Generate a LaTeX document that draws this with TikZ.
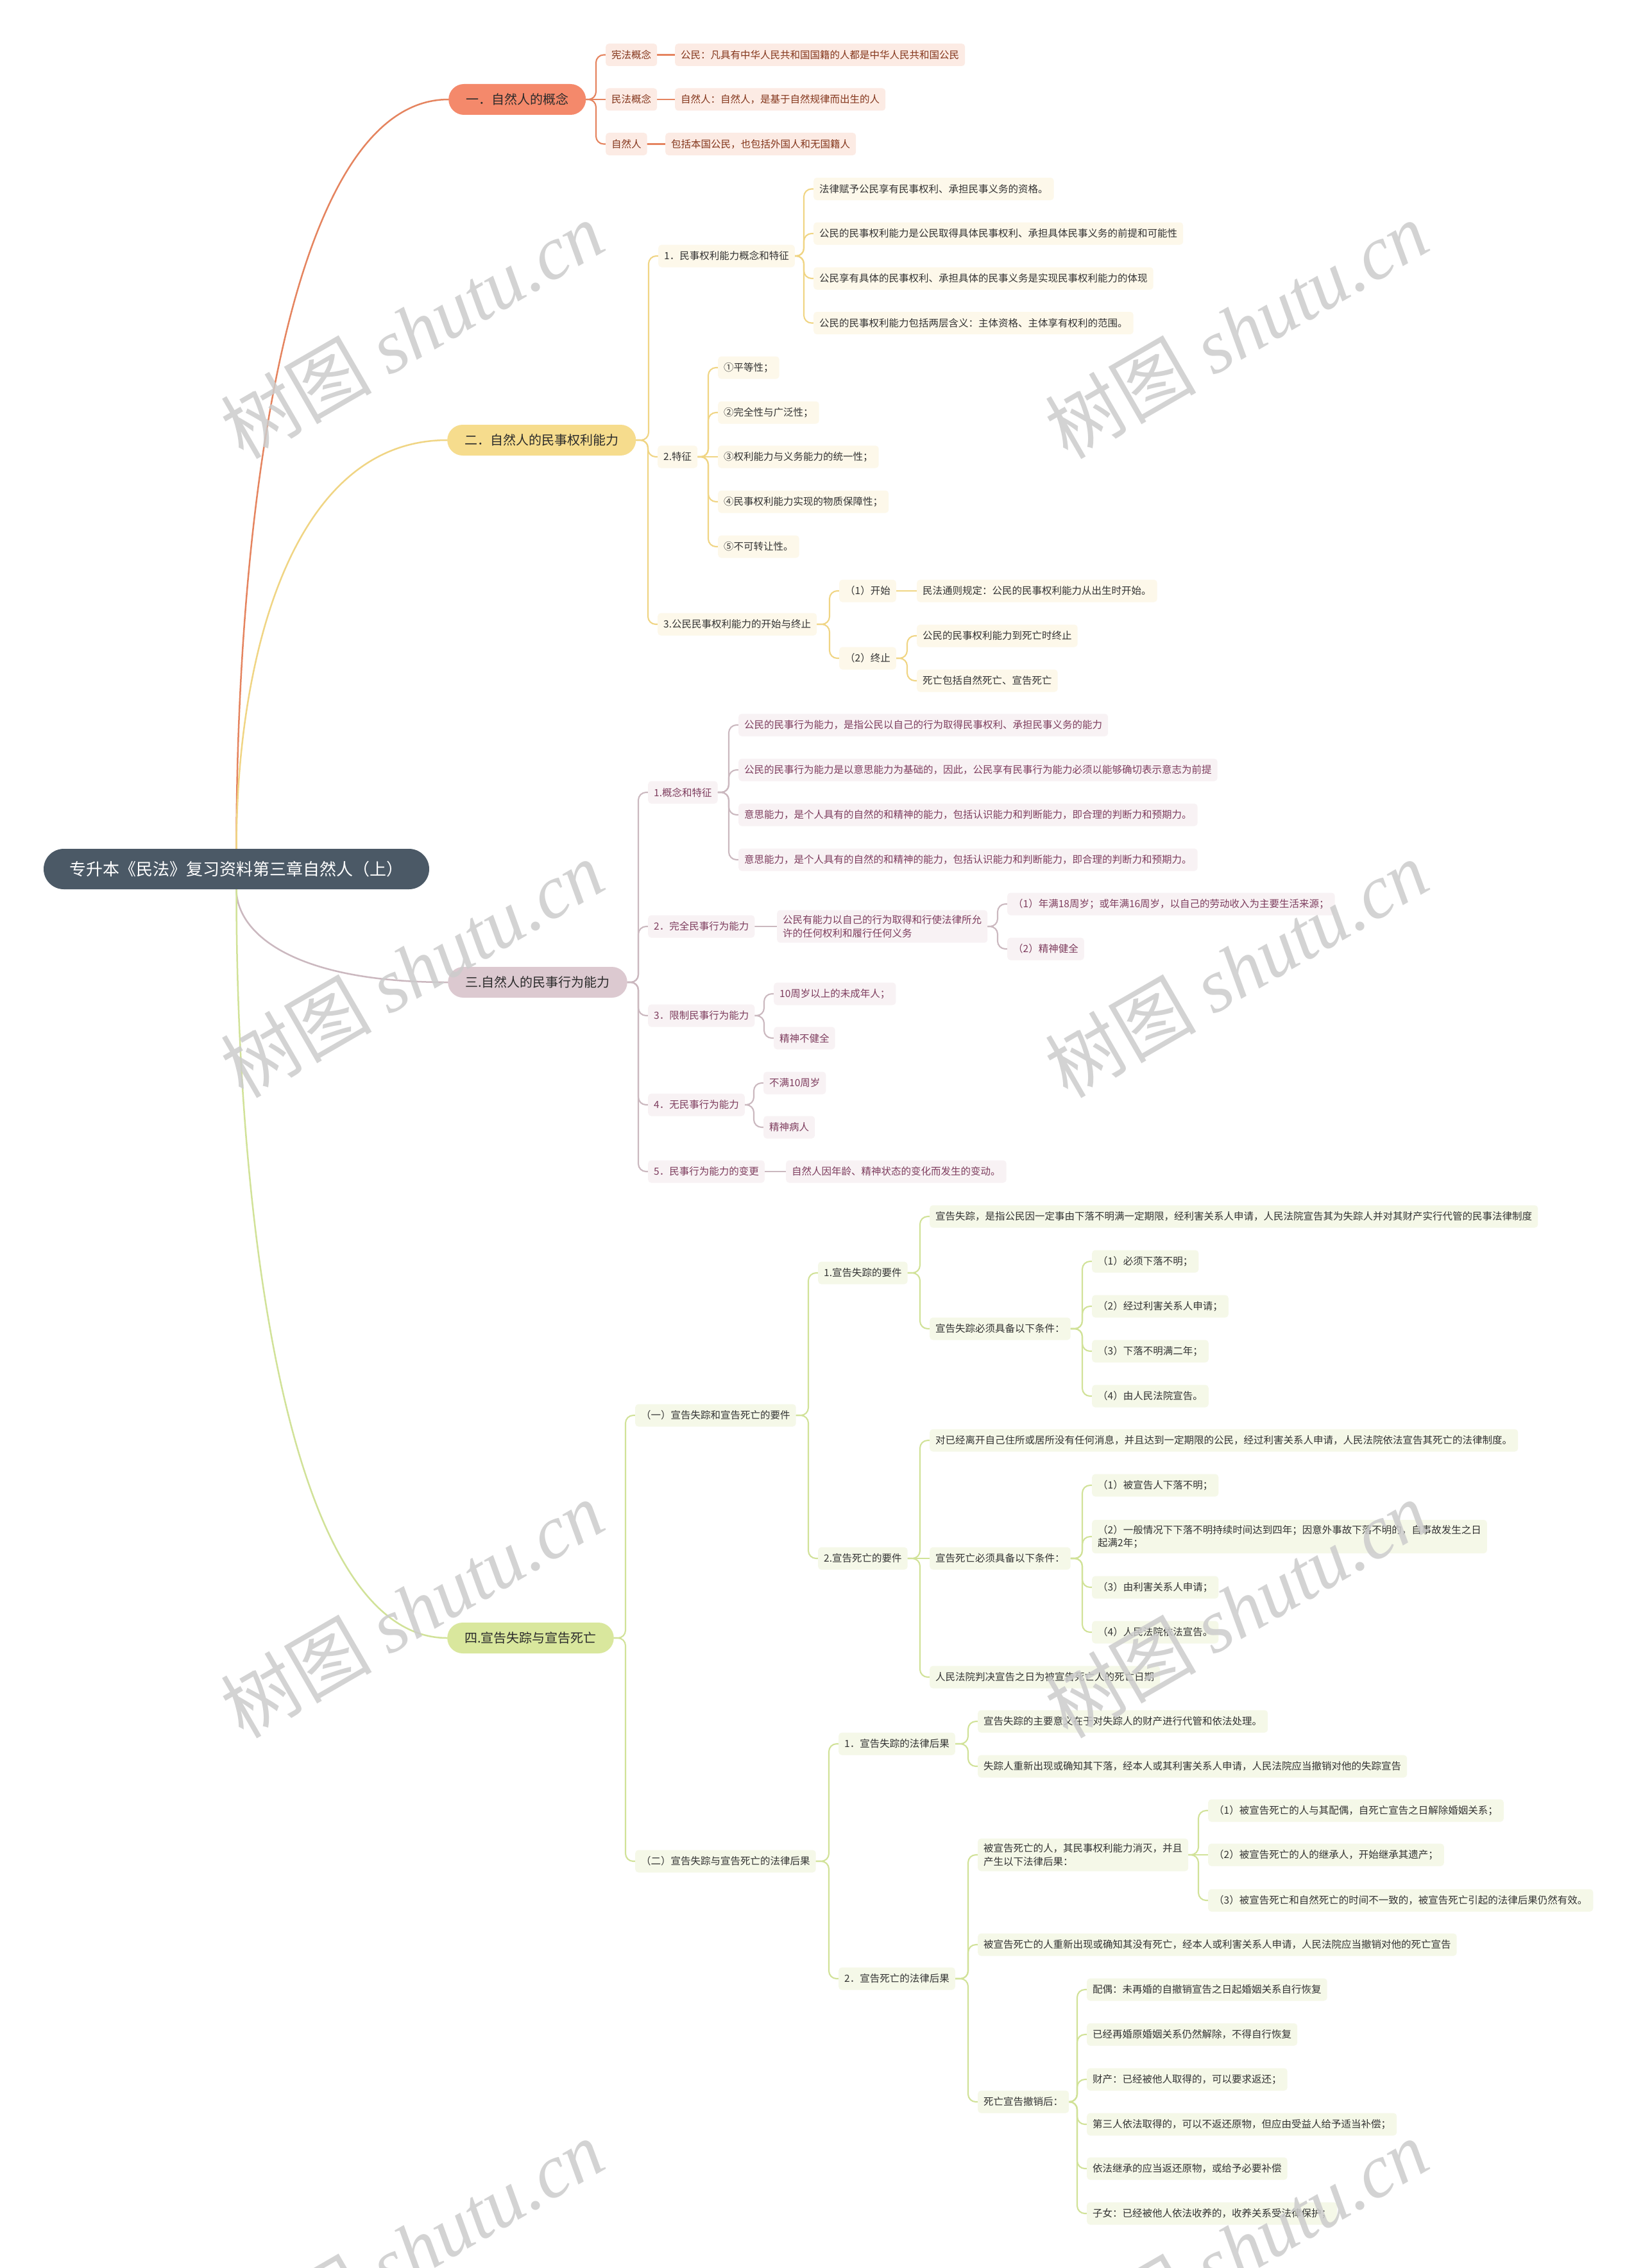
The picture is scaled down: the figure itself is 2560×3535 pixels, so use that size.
\documentclass[tikz,border=0pt]{standalone}
\usepackage{fontspec}
\setmainfont{Noto Sans CJK SC}
\newfontfamily\wmlatin{Liberation Serif}
\usetikzlibrary{calc,backgrounds}
\definecolor{rootfill}{HTML}{4B5966}
\definecolor{txtdark}{HTML}{2B2B2B}
\definecolor{afill}{HTML}{F4896B}
\definecolor{afillL}{HTML}{FCEBE4}
\definecolor{atext}{HTML}{84361C}
\definecolor{aline}{HTML}{E5845F}
\definecolor{bfill}{HTML}{F6DC8D}
\definecolor{bfillL}{HTML}{FDF8EA}
\definecolor{btext}{HTML}{333333}
\definecolor{bline}{HTML}{F0D584}
\definecolor{cfill}{HTML}{DCC9D0}
\definecolor{cfillL}{HTML}{F8F2F4}
\definecolor{ctext}{HTML}{7E3D5E}
\definecolor{cline}{HTML}{CBB8BF}
\definecolor{dfill}{HTML}{D9E79D}
\definecolor{dfillL}{HTML}{F5F8E8}
\definecolor{dtext}{HTML}{333333}
\definecolor{dline}{HTML}{D1E298}
\definecolor{wmgray}{HTML}{CCCCCC}
\newcommand\leaffont{\fontsize{15.5}{20.5}\selectfont}
\newcommand\lonefont{\fontsize{20}{24}\selectfont}
\newcommand\rootfont{\fontsize{26}{30}\selectfont}
\newcommand\wmfont{\fontsize{118}{124}\selectfont}
\tikzset{
  rootnode/.style={fill=rootfill, text=white, rounded corners=31.5, minimum width=601, minimum height=63, inner sep=0, font=\rootfont},
  lone/.style={anchor=west, rounded corners=24, minimum height=48, inner xsep=27, inner ysep=0, font=\lonefont, text=txtdark},
  leaf/.style={anchor=west, rounded corners=5, minimum height=35, inner xsep=9, inner ysep=0, font=\leaffont},
  two/.style={align=left, inner ysep=8},
  ga/.style={leaf, fill=afillL, text=atext},
  gb/.style={leaf, fill=bfillL, text=btext},
  gc/.style={leaf, fill=cfillL, text=ctext},
  gd/.style={leaf, fill=dfillL, text=dtext},
  link/.style={rounded corners=12, line width=2.1, line cap=round},
  rlink/.style={line width=2.5, line cap=round},
  wm/.style={rotate=30, text=wmgray, opacity=0.85, font=\wmfont, inner sep=0}
}
\begin{document}
\begin{tikzpicture}[x=1pt,y=-1pt]
\useasboundingbox (0,0) rectangle (2560,3535);

% ---------- nodes ----------
\node[rootnode] (root) at (368.5,1354.5) {专升本《民法》复习资料第三章自然人（上）};

\node[lone, fill=afill] (n1) at (699,155) {一．自然人的概念};
\node[lone, fill=bfill] (n2) at (697,686) {二．自然人的民事权利能力};
\node[lone, fill=cfill] (n3) at (698,1531) {三.自然人的民事行为能力};
\node[lone, fill=dfill] (n4) at (697,2553) {四.宣告失踪与宣告死亡};

% branch 1
\node[ga] (a1) at (944,85.5) {宪法概念};
\node[ga] (a1x) at (1052,85.5) {公民：凡具有中华人民共和国国籍的人都是中华人民共和国公民};
\node[ga] (a2) at (944,155) {民法概念};
\node[ga] (a2x) at (1052,155) {自然人：自然人，是基于自然规律而出生的人};
\node[ga] (a3) at (944,224.5) {自然人};
\node[ga] (a3x) at (1037,224.5) {包括本国公民，也包括外国人和无国籍人};

% branch 2
\node[gb] (b1) at (1026,399) {1．民事权利能力概念和特征};
\node[gb] (b11) at (1268,294.5) {法律赋予公民享有民事权利、承担民事义务的资格。};
\node[gb] (b12) at (1268,364) {公民的民事权利能力是公民取得具体民事权利、承担具体民事义务的前提和可能性};
\node[gb] (b13) at (1268,434) {公民享有具体的民事权利、承担具体的民事义务是实现民事权利能力的体现};
\node[gb] (b14) at (1268,503.5) {公民的民事权利能力包括两层含义：主体资格、主体享有权利的范围。};
\node[gb] (b2) at (1025,712) {2.特征};
\node[gb] (b21) at (1119,573) {①平等性；};
\node[gb] (b22) at (1119,643) {②完全性与广泛性；};
\node[gb] (b23) at (1119,712) {③权利能力与义务能力的统一性；};
\node[gb] (b24) at (1119,782) {④民事权利能力实现的物质保障性；};
\node[gb] (b25) at (1119,852) {⑤不可转让性。};
\node[gb] (b3) at (1025,973) {3.公民民事权利能力的开始与终止};
\node[gb] (b31) at (1308,921) {（1）开始};
\node[gb] (b311) at (1429,921) {民法通则规定：公民的民事权利能力从出生时开始。};
\node[gb] (b32) at (1308,1026) {（2）终止};
\node[gb] (b321) at (1429,991) {公民的民事权利能力到死亡时终止};
\node[gb] (b322) at (1429,1061) {死亡包括自然死亡、宣告死亡};

% branch 3
\node[gc] (c1) at (1010,1235) {1.概念和特征};
\node[gc] (c11) at (1151,1130) {公民的民事行为能力，是指公民以自己的行为取得民事权利、承担民事义务的能力};
\node[gc] (c12) at (1151,1200) {公民的民事行为能力是以意思能力为基础的，因此，公民享有民事行为能力必须以能够确切表示意志为前提};
\node[gc] (c13) at (1151,1270) {意思能力，是个人具有的自然的和精神的能力，包括认识能力和判断能力，即合理的判断力和预期力。};
\node[gc] (c14) at (1151,1340) {意思能力，是个人具有的自然的和精神的能力，包括认识能力和判断能力，即合理的判断力和预期力。};
\node[gc] (c2) at (1010,1444) {2．完全民事行为能力};
\node[gc, two] (c21) at (1211,1444) {公民有能力以自己的行为取得和行使法律所允\\许的任何权利和履行任何义务};
\node[gc] (c211) at (1570,1409) {（1）年满18周岁；或年满16周岁，以自己的劳动收入为主要生活来源；};
\node[gc] (c212) at (1570,1479) {（2）精神健全};
\node[gc] (c3) at (1010,1583) {3．限制民事行为能力};
\node[gc] (c31) at (1206,1549) {10周岁以上的未成年人；};
\node[gc] (c32) at (1206,1618) {精神不健全};
\node[gc] (c4) at (1010,1722) {4．无民事行为能力};
\node[gc] (c41) at (1190,1688) {不满10周岁};
\node[gc] (c42) at (1190,1757) {精神病人};
\node[gc] (c5) at (1010,1826) {5．民事行为能力的变更};
\node[gc] (c51) at (1225,1826) {自然人因年龄、精神状态的变化而发生的变动。};

% branch 4
\node[gd] (d1) at (990,2206) {（一）宣告失踪和宣告死亡的要件};
\node[gd] (d11) at (1275,1984) {1.宣告失踪的要件};
\node[gd] (d111) at (1449,1896) {宣告失踪，是指公民因一定事由下落不明满一定期限，经利害关系人申请，人民法院宣告其为失踪人并对其财产实行代管的民事法律制度};
\node[gd] (d112) at (1449,2071) {宣告失踪必须具备以下条件：};
\node[gd] (d1121) at (1702,1966) {（1）必须下落不明；};
\node[gd] (d1122) at (1702,2036) {（2）经过利害关系人申请；};
\node[gd] (d1123) at (1702,2106) {（3）下落不明满二年；};
\node[gd] (d1124) at (1702,2176) {（4）由人民法院宣告。};
\node[gd] (d12) at (1275,2429) {2.宣告死亡的要件};
\node[gd] (d121) at (1449,2245) {对已经离开自己住所或居所没有任何消息，并且达到一定期限的公民，经过利害关系人申请，人民法院依法宣告其死亡的法律制度。};
\node[gd] (d122) at (1449,2429) {宣告死亡必须具备以下条件：};
\node[gd] (d1221) at (1702,2315) {（1）被宣告人下落不明；};
\node[gd, two] (d1222) at (1702,2395) {（2）一般情况下下落不明持续时间达到四年；因意外事故下落不明的，自事故发生之日\\起满2年；};
\node[gd] (d1223) at (1702,2474) {（3）由利害关系人申请；};
\node[gd] (d1224) at (1702,2544) {（4）人民法院依法宣告。};
\node[gd] (d123) at (1449,2614) {人民法院判决宣告之日为被宣告死亡人的死亡日期};
\node[gd] (d2) at (990,2901) {（二）宣告失踪与宣告死亡的法律后果};
\node[gd] (d21) at (1307,2718) {1．宣告失踪的法律后果};
\node[gd] (d211) at (1524,2683) {宣告失踪的主要意义在于对失踪人的财产进行代管和依法处理。};
\node[gd] (d212) at (1524,2753) {失踪人重新出现或确知其下落，经本人或其利害关系人申请，人民法院应当撤销对他的失踪宣告};
\node[gd] (d22) at (1307,3084) {2．宣告死亡的法律后果};
\node[gd, two] (d221) at (1524,2891) {被宣告死亡的人，其民事权利能力消灭，并且\\产生以下法律后果：};
\node[gd] (d2211) at (1883,2822) {（1）被宣告死亡的人与其配偶，自死亡宣告之日解除婚姻关系；};
\node[gd] (d2212) at (1883,2891) {（2）被宣告死亡的人的继承人，开始继承其遗产；};
\node[gd] (d2213) at (1883,2962) {（3）被宣告死亡和自然死亡的时间不一致的，被宣告死亡引起的法律后果仍然有效。};
\node[gd] (d222) at (1524,3031) {被宣告死亡的人重新出现或确知其没有死亡，经本人或利害关系人申请，人民法院应当撤销对他的死亡宣告};
\node[gd] (d223) at (1524,3276) {死亡宣告撤销后：};
\node[gd] (d2231) at (1694,3101) {配偶：未再婚的自撤销宣告之日起婚姻关系自行恢复};
\node[gd] (d2232) at (1694,3171) {已经再婚原婚姻关系仍然解除，不得自行恢复};
\node[gd] (d2233) at (1694,3241) {财产：已经被他人取得的，可以要求返还；};
\node[gd] (d2234) at (1694,3311) {第三人依法取得的，可以不返还原物，但应由受益人给予适当补偿；};
\node[gd] (d2235) at (1694,3380) {依法继承的应当返还原物，或给予必要补偿};
\node[gd] (d2236) at (1694,3450) {子女：已经被他人依法收养的，收养关系受法律保护；};

% ---------- connectors (behind nodes) ----------
\begin{scope}[on background layer]
\fill[white] (0,0) rectangle (2560,3535);
\draw[rlink, aline] (root.north) .. controls (368.5,800) and (450,155) .. (n1.west);
\draw[rlink, bline] (root.north) .. controls (368.5,1036) and (450,686) .. (n2.west);
\draw[rlink, cline] (root.south) .. controls (368.5,1451) and (450,1531) .. (n3.west);
\draw[rlink, dline] (root.south) .. controls (368.5,1911) and (450,2553) .. (n4.west);

% straight links (child level with parent)
\foreach \p/\c in {n1/a2,a1/a1x,a2/a2x,a3/a3x}
  \draw[link, aline] (\p.east) -- (\c.west);
\foreach \p/\c in {b2/b23,b31/b311}
  \draw[link, bline] (\p.east) -- (\c.west);
\foreach \p/\c in {c2/c21,c5/c51}
  \draw[link, cline] (\p.east) -- (\c.west);
\foreach \p/\c in {d12/d122,d221/d2212}
  \draw[link, dline] (\p.east) -- (\c.west);

% bent links
\foreach \p/\c in {n1/a1,n1/a3}
  \draw[link, aline] (\p.east) -| ($(\c.west)+(-15,0)$) -- (\c.west);
\foreach \p/\c in {n2/b1,n2/b2,n2/b3,b1/b11,b1/b12,b1/b13,b1/b14,b2/b21,b2/b22,b2/b24,b2/b25,b3/b31,b3/b32,b32/b321,b32/b322}
  \draw[link, bline] (\p.east) -| ($(\c.west)+(-15,0)$) -- (\c.west);
\foreach \p/\c in {n3/c1,n3/c2,n3/c3,n3/c4,n3/c5,c1/c11,c1/c12,c1/c13,c1/c14,c21/c211,c21/c212,c3/c31,c3/c32,c4/c41,c4/c42}
  \draw[link, cline] (\p.east) -| ($(\c.west)+(-15,0)$) -- (\c.west);
\foreach \p/\c in {n4/d1,n4/d2,d1/d11,d1/d12,d11/d111,d11/d112,d112/d1121,d112/d1122,d112/d1123,d112/d1124,d12/d121,d12/d123,d122/d1221,d122/d1222,d122/d1223,d122/d1224,d2/d21,d2/d22,d21/d211,d21/d212,d22/d221,d22/d222,d22/d223,d221/d2211,d221/d2213,d223/d2231,d223/d2232,d223/d2233,d223/d2234,d223/d2235,d223/d2236}
  \draw[link, dline] (\p.east) -| ($(\c.west)+(-15,0)$) -- (\c.west);
\end{scope}

% ---------- watermarks ----------
\foreach \wx/\wy [count=\i] in {642/514,1927/514,642/1510,1927/1510,642/2508,1927/2508,642/3504,1927/3504}
  \node[wm] (wm\i) at (\wx,\wy) {树图 {\wmlatin\itshape shutu.cn}};
\end{tikzpicture}
\end{document}
